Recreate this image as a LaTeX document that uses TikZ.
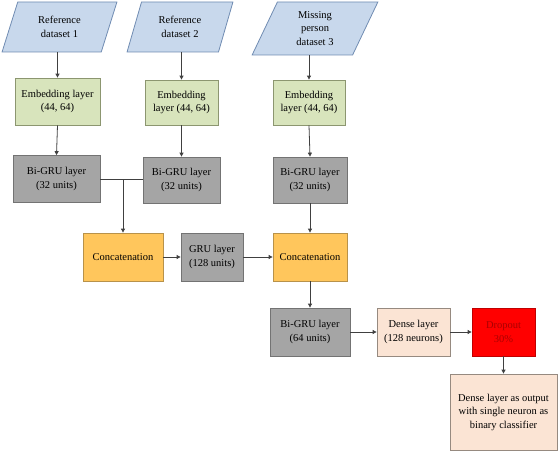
\documentclass[tikz,border=0pt]{standalone}
\usepackage{fontspec}
\setmainfont{Liberation Serif}
\usetikzlibrary{shapes.geometric, arrows.meta}
\definecolor{dataFill}{RGB}{200,216,236}
\definecolor{dataLine}{RGB}{112,140,178}
\definecolor{embFill}{RGB}{216,228,188}
\definecolor{embLine}{RGB}{140,150,112}
\definecolor{gruFill}{RGB}{165,165,165}
\definecolor{gruLine}{RGB}{115,115,115}
\definecolor{catFill}{RGB}{255,198,92}
\definecolor{catLine}{RGB}{184,146,74}
\definecolor{denseFill}{RGB}{251,228,212}
\definecolor{denseLine}{RGB}{150,138,128}
\definecolor{dropFill}{RGB}{255,0,0}
\definecolor{dropLine}{RGB}{192,0,0}
\definecolor{dropText}{RGB}{170,0,0}
\definecolor{arrowCol}{RGB}{64,64,64}
\begin{document}
\begin{tikzpicture}[x=1pt,y=-1pt,
  font=\fontsize{10.5}{13.5}\selectfont,
  basebox/.style={draw, rectangle, align=center, inner sep=1pt, line width=0.8pt},
  datashape/.style={draw=dataLine, fill=dataFill, line width=0.8pt, trapezium,
     trapezium left angle=70, trapezium right angle=110, trapezium stretches=true,
     align=center, inner sep=1pt},
  embbox/.style={basebox, draw=embLine, fill=embFill},
  grubox/.style={basebox, draw=gruLine, fill=gruFill},
  catbox/.style={basebox, draw=catLine, fill=catFill},
  densebox/.style={basebox, draw=denseLine, fill=denseFill},
  dropbox/.style={basebox, draw=dropLine, fill=dropFill, text=dropText},
  arr/.style={draw=arrowCol, line width=0.8pt, -{Triangle[length=4pt,width=4pt]}},
  ln/.style={draw=arrowCol, line width=0.8pt}
]
\useasboundingbox (0,0) rectangle (559,452);

% data inputs
\node[datashape, minimum width=115pt, minimum height=50pt] (d1) at (59.5,27) {Reference\\dataset 1};
\node[datashape, minimum width=106pt, minimum height=50pt] (d2) at (180,27) {Reference\\dataset 2};
\node[datashape, minimum width=126pt, minimum height=53pt] (d3) at (315,28.5) {Missing\\person\\dataset 3};

% embedding layers
\node[embbox, minimum width=85pt, minimum height=47pt] (e1) at (57.5,101.5) {Embedding layer\\(44, 64)};
\node[embbox, minimum width=73pt, minimum height=45pt] (e2) at (181.5,102.5) {Embedding\\layer (44, 64)};
\node[embbox, minimum width=72pt, minimum height=45pt] (e3) at (309,102.5) {Embedding\\layer (44, 64)};

% Bi-GRU layers
\node[grubox, minimum width=87pt, minimum height=47pt] (b1) at (56.5,179) {Bi-GRU layer\\(32 units)};
\node[grubox, minimum width=77pt, minimum height=46pt] (b2) at (181.5,180) {Bi-GRU layer\\(32 units)};
\node[grubox, minimum width=74pt, minimum height=46pt] (b3) at (310,180) {Bi-GRU layer\\(32 units)};

% concatenation & GRU
\node[catbox, minimum width=80pt, minimum height=48pt] (c1) at (123,257) {Concatenation};
\node[grubox, minimum width=62pt, minimum height=48pt] (g) at (212,257) {GRU layer\\(128 units)};
\node[catbox, minimum width=74pt, minimum height=48pt] (c2) at (310,257) {Concatenation};

% lower chain
\node[grubox, minimum width=80pt, minimum height=48pt] (b4) at (310,332) {Bi-GRU layer\\(64 units)};
\node[densebox, minimum width=73pt, minimum height=48pt] (dn) at (413.5,332) {Dense layer\\(128 neurons)};
\node[dropbox, minimum width=63pt, minimum height=48pt] (dr) at (503.5,332) {Dropout\\30\%};
\node[densebox, minimum width=107pt, minimum height=76pt] (out) at (503.5,412) {Dense layer as output\\with single neuron as\\binary classifier};

% connectors
\draw[arr] (d1.south -| e1.north) -- (e1.north);
\draw[arr] (d2.south -| e2.north) -- (e2.north);
\draw[arr] (d3.south -| e3.north) -- (e3.north);
\draw[arr] (e1.south) -- (b1.north);
\draw[arr] (e2.south) -- (b2.north);
\draw[arr] (e3.south) -- (b3.north);
\draw[ln] (b1.east) -- (b1.east -| b2.west);
\draw[arr] (b1.east -| c1.north) -- (c1.north);
\draw[arr] (b3.south) -- (c2.north);
\draw[arr] (c1.east) -- (g.west);
\draw[arr] (g.east) -- (c2.west);
\draw[arr] (c2.south) -- (b4.north);
\draw[arr] (b4.east) -- (dn.west);
\draw[arr] (dn.east) -- (dr.west);
\draw[arr] (dr.south) -- (out.north);
\end{tikzpicture}
\end{document}
